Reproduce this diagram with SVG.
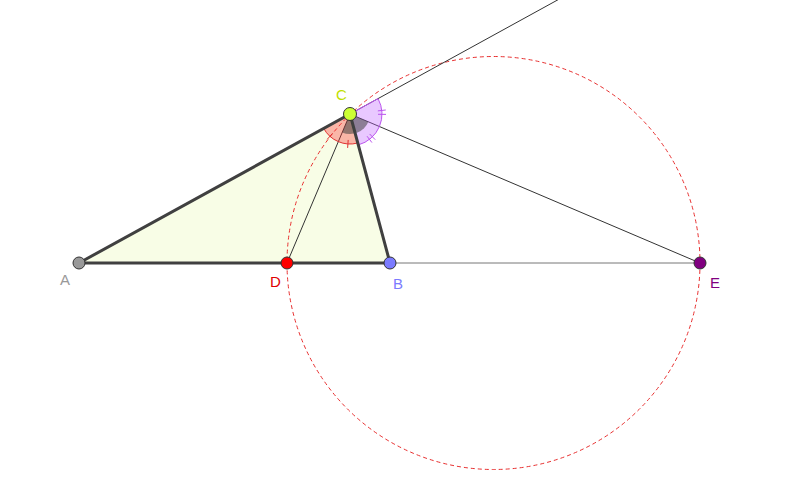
<svg xmlns="http://www.w3.org/2000/svg" width="800" height="500" viewBox="0 0 800 500">
<style>
.thin{stroke:#333;stroke-width:1;fill:none}
.side{stroke:#404040;stroke-width:3;fill:none;stroke-linecap:round}
.pt{stroke:#333;stroke-width:1}
.lbl{font-family:"Liberation Sans",Arial,sans-serif;font-size:15px}
.rtick{stroke:#e03030;stroke-width:1}
.ptick{stroke:#bb55ee;stroke-width:1}
</style>
<rect width="800" height="500" fill="#fff"/>
<g id="triangle">
<polygon points="79,263 350,114 390,263" fill="#f8fde6"/>
</g>
<g id="circle">
<circle cx="493.5" cy="263" r="206.5" fill="none" stroke="#e83030" stroke-width="1" stroke-dasharray="4,3"/>
</g>
<g id="connectors">
<line class="thin" x1="350" y1="114" x2="563" y2="-3"/>
<line class="thin" x1="350" y1="114" x2="287" y2="263"/>
<line class="thin" x1="350" y1="114" x2="700" y2="263"/>
<line x1="390" y1="263" x2="700" y2="263" stroke="#777" stroke-width="1"/>
</g>
<g id="angles">
<path d="M350,114 L323.71,128.45 A30,30 0 0 0 357.76,142.98 Z" fill="#ff3030" fill-opacity="0.35" stroke="#e03030" stroke-width="1"/>
<path d="M350,114 L358.28,144.91 A32,32 0 0 0 378.04,98.58 Z" fill="#c060ff" fill-opacity="0.35" stroke="#bb55ee" stroke-width="1"/>
<path d="M350,114 L342.22,132.42 A20,20 0 0 0 368.40,121.83 Z" fill="#404040" fill-opacity="0.55"/>
<line class="rtick" x1="332.6" y1="133.3" x2="327.25" y2="139.27"/>
<line class="rtick" x1="348.19" y1="139.94" x2="347.63" y2="147.92"/>
<line class="ptick" x1="369.63" y1="133.97" x2="375.23" y2="139.68"/>
<line class="ptick" x1="367.05" y1="136.21" x2="371.92" y2="142.56"/>
<line class="ptick" x1="378" y1="114.29" x2="386" y2="114.38"/>
<line class="ptick" x1="377.83" y1="110.88" x2="385.78" y2="109.99"/>
</g>
<g id="sides">
<polyline class="side" points="390,263 79,263 350,114 390,263"/>
</g>
<g id="A">
<circle class="pt" cx="79" cy="263" r="6" fill="#999"/>
<text class="lbl" x="60" y="285" fill="#999">A</text>
</g>
<g id="D">
<circle class="pt" cx="287" cy="263" r="6" fill="#ff0000"/>
<text class="lbl" x="270" y="287" fill="#e00000">D</text>
</g>
<g id="B">
<circle class="pt" cx="390" cy="263" r="6" fill="#7b7bff"/>
<text class="lbl" x="393" y="289" fill="#7b7bff">B</text>
</g>
<g id="E">
<circle class="pt" cx="700" cy="263" r="6" fill="#800080"/>
<text class="lbl" x="710" y="288" fill="#800080">E</text>
</g>
<g id="C">
<circle class="pt" cx="350" cy="114" r="6.5" fill="#ccff33"/>
<text class="lbl" x="336" y="100" fill="#c0e000">C</text>
</g>
</svg>
